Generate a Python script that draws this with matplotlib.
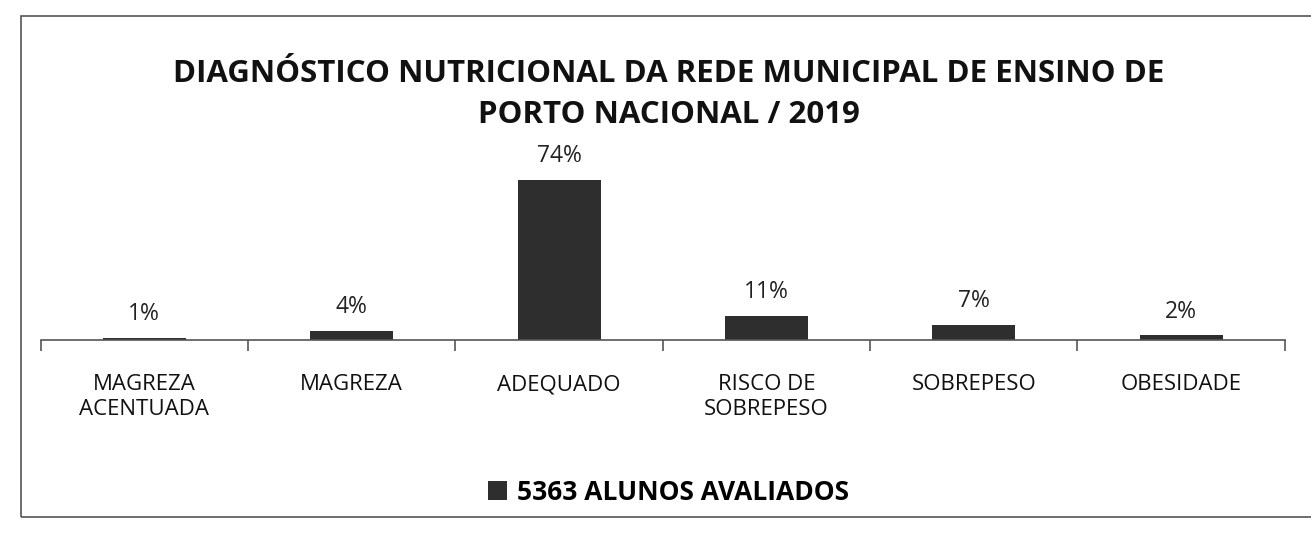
import matplotlib
matplotlib.use("Agg")
import matplotlib.pyplot as plt
from matplotlib.patches import Rectangle

categorias = ["MAGREZA\nACENTUADA", "MAGREZA", "ADEQUADO", "RISCO DE\nSOBREPESO", "SOBREPESO", "OBESIDADE"]
percentuais = [1, 4, 74, 11, 7, 2]
serie = "5363 ALUNOS AVALIADOS"
titulo = "DIAGNÓSTICO NUTRICIONAL DA REDE MUNICIPAL DE ENSINO DE\nPORTO NACIONAL / 2019"

plt.rcParams["font.family"] = ["Open Sans", "DejaVu Sans"]
BAR = "#2e2e2e"

fig = plt.figure(figsize=(13.11, 5.41), dpi=100)
fig.patch.set_facecolor("white")
fig.patches.append(Rectangle((0.016, 0.045), 0.99, 0.925, transform=fig.transFigure,
                             fill=False, edgecolor="#555555", linewidth=1.2))

ax = fig.add_axes([0.031, 0.372, 0.949, 0.32])
x = list(range(len(categorias)))
bars = ax.bar(x, percentuais, width=0.4, color=BAR, label=serie)
for xi, v in zip(x, percentuais):
    ax.text(xi, v + 5.5, f"{v}%", ha="center", va="bottom", fontsize=16.5, color="#222222")

ax.set_xlim(-0.5, len(categorias) - 0.5)
ax.set_ylim(0, 80)
ax.set_yticks([])
for s in ("top", "right", "left"):
    ax.spines[s].set_visible(False)
ax.spines["bottom"].set_color("#555555")
ax.spines["bottom"].set_linewidth(1.2)

ax.set_xticks(x)
ax.set_xticklabels(categorias, fontsize=16, color="#111111", linespacing=1.25)
ax.tick_params(axis="x", which="major", length=0, pad=25)
ax.set_xticks([i - 0.5 for i in range(len(categorias) + 1)], minor=True)
ax.tick_params(axis="x", which="minor", length=8, width=1.2, color="#555555")

fig.text(0.51, 0.825, titulo, ha="center", va="center", fontsize=22.5, fontweight="bold",
         color="#111111", linespacing=1.45)

fig.legend(handles=[bars], labels=[serie], loc="center", bbox_to_anchor=(0.51, 0.09),
           frameon=False, prop={"size": 19, "weight": "bold"}, handlelength=0.7,
           handleheight=0.7, handletextpad=0.4)

fig.savefig("out.png", dpi=100, facecolor="white")
